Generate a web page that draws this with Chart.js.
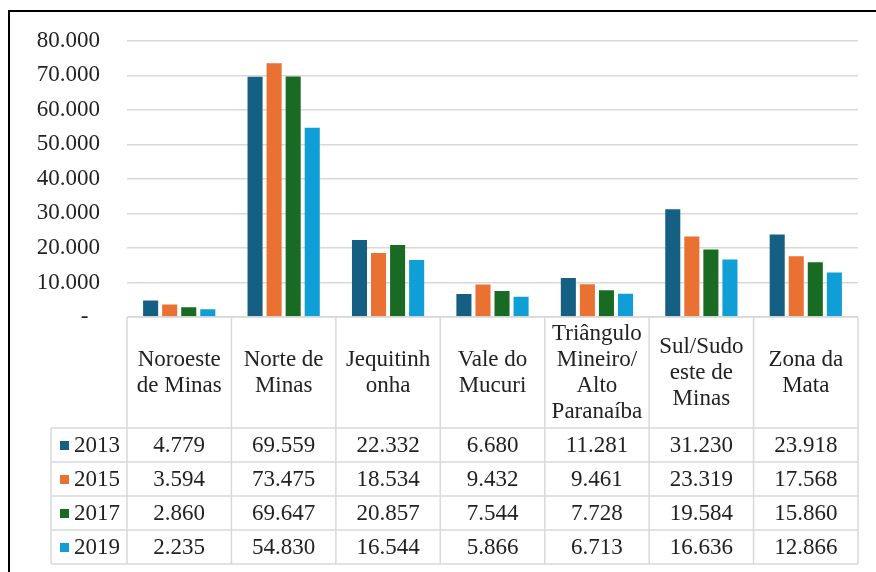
<!DOCTYPE html>
<html>
<head>
<meta charset="utf-8">
<script src="https://cdn.jsdelivr.net/npm/chart.js@4/dist/chart.umd.min.js"></script>
<style>
  html, body { margin: 0; padding: 0; background: #ffffff; }
  #wrap { width: 876px; height: 572px; }
</style>
</head>
<body>
<div id="wrap"><canvas id="c" width="876" height="572"></canvas></div>
<script>
// Regions of Minas Gerais (header lines of the data table)
const categories = [
  ["Noroeste", "de Minas"],
  ["Norte de", "Minas"],
  ["Jequitinh", "onha"],
  ["Vale do", "Mucuri"],
  ["Triângulo", "Mineiro/", "Alto", "Paranaíba"],
  ["Sul/Sudo", "este de", "Minas"],
  ["Zona da", "Mata"]
];

const years = ["2013", "2015", "2017", "2019"];

const values2013 = [4779, 69559, 22332, 6680, 11281, 31230, 23918];
const values2015 = [3594, 73475, 18534, 9432, 9461, 23319, 17568];
const values2017 = [2860, 69647, 20857, 7544, 7728, 19584, 15860];
const values2019 = [2235, 54830, 16544, 5866, 6713, 16636, 12866];

const yTickValues = [0, 10000, 20000, 30000, 40000, 50000, 60000, 70000, 80000];

const seriesColors = ["#156082", "#E97132", "#196B24", "#0F9ED5"];
const seriesValues = [values2013, values2015, values2017, values2019];

const FONT = "'Liberation Serif', 'Times New Roman', serif";
const FONT_SIZE = 23;
const TEXT = "#222222";
const LINE = "#d9d9d9";

// Thousands separated with a dot
function fmt(v) {
  return String(v).replace(/\B(?=(\d{3})+(?!\d))/g, ".");
}

// Frame around the figure (top and left edges)
const framePlugin = {
  id: "frame",
  beforeDraw(chart) {
    const ctx = chart.ctx;
    ctx.save();
    ctx.fillStyle = "#ffffff";
    ctx.fillRect(0, 0, chart.width, chart.height);
    ctx.strokeStyle = "#000000";
    ctx.lineWidth = 2;
    ctx.beginPath();
    ctx.moveTo(9, chart.height);
    ctx.lineTo(9, 11);
    ctx.lineTo(chart.width, 11);
    ctx.stroke();
    ctx.restore();
  }
};

// Data table below the plot, one column per category
const tablePlugin = {
  id: "dataTable",
  afterDraw(chart) {
    const ctx = chart.ctx;
    const area = chart.chartArea;
    const x = chart.scales.x;
    const n = categories.length;
    const half = (area.right - area.left) / n / 2;
    const edges = [];
    for (let i = 0; i < n; i++) edges.push(x.getPixelForValue(i) - half);
    edges.push(x.getPixelForValue(n - 1) + half);

    const top = area.bottom;
    const headerH = 111;
    const rowH = 34;
    const legendLeft = 51;
    const rowsTop = top + headerH;
    const bottom = rowsTop + rowH * years.length;

    ctx.save();
    ctx.strokeStyle = LINE;
    ctx.lineWidth = 1.5;
    ctx.beginPath();
    // horizontal rules
    ctx.moveTo(edges[0], top); ctx.lineTo(edges[n], top);
    for (let r = 0; r <= years.length; r++) {
      const y = rowsTop + r * rowH;
      ctx.moveTo(legendLeft, y); ctx.lineTo(edges[n], y);
    }
    // vertical rules
    ctx.moveTo(legendLeft, rowsTop); ctx.lineTo(legendLeft, bottom);
    for (let i = 0; i <= n; i++) {
      ctx.moveTo(edges[i], top); ctx.lineTo(edges[i], bottom);
    }
    ctx.stroke();

    ctx.fillStyle = TEXT;
    ctx.font = FONT_SIZE + "px " + FONT;
    ctx.textAlign = "center";
    ctx.textBaseline = "middle";
    const lh = 26;
    // header labels
    for (let i = 0; i < n; i++) {
      const lines = categories[i];
      const cx = (edges[i] + edges[i + 1]) / 2;
      const cy = top + headerH / 2;
      const startY = cy - (lines.length - 1) * lh / 2;
      lines.forEach((t, k) => ctx.fillText(t, cx, startY + k * lh));
    }
    // value rows
    for (let r = 0; r < years.length; r++) {
      const cy = rowsTop + r * rowH + rowH / 2 + 1;
      for (let i = 0; i < n; i++) {
        const cx = (edges[i] + edges[i + 1]) / 2;
        ctx.fillText(fmt(seriesValues[r][i]), cx, cy);
      }
      // legend key
      ctx.fillStyle = seriesColors[r];
      ctx.fillRect(60, cy - 5, 9, 9);
      ctx.fillStyle = TEXT;
      ctx.textAlign = "left";
      ctx.fillText(years[r], 74, cy);
      ctx.textAlign = "center";
    }
    ctx.restore();
  }
};

new Chart(document.getElementById("c"), {
  type: "bar",
  data: {
    labels: categories,
    datasets: years.map((y, k) => ({
      label: y,
      data: seriesValues[k],
      backgroundColor: seriesColors[k],
      borderWidth: 0,
      categoryPercentage: 0.73,
      barPercentage: 0.79
    }))
  },
  options: {
    responsive: false,
    animation: false,
    layout: { padding: { left: 9, right: 18, top: 0, bottom: 255 } },
    plugins: {
      legend: { display: false },
      tooltip: { enabled: false },
      title: { display: false }
    },
    scales: {
      x: {
        display: false
      },
      y: {
        min: 0,
        max: 80000,
        afterBuildTicks(scale) {
          scale.ticks = yTickValues.map(v => ({ value: v }));
        },
        afterFit(scale) { scale.width = 118; },
        grid: { color: LINE, lineWidth: 1.5, drawTicks: false },
        border: { display: false },
        ticks: {
          padding: 27,
          color: TEXT,
          font: { family: FONT, size: FONT_SIZE },
          callback: (v) => (v === 0 ? "-  " : fmt(v))
        }
      }
    }
  },
  plugins: [framePlugin, tablePlugin]
});
</script>
</body>
</html>
